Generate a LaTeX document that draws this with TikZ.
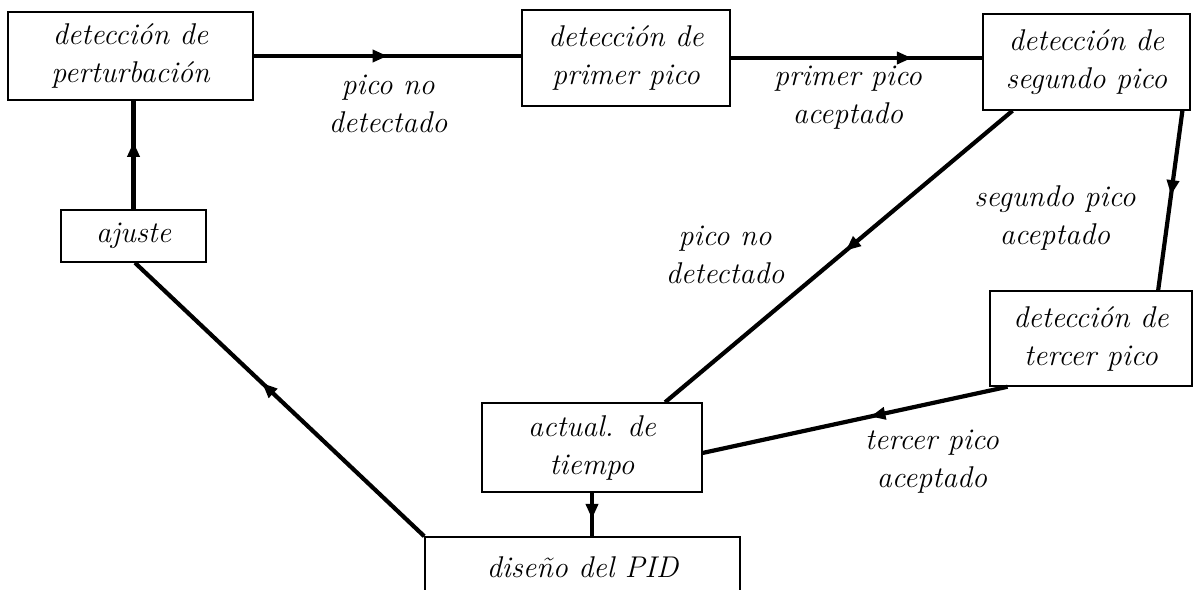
\documentclass[tikz,border=0pt]{standalone}
\usetikzlibrary{arrows.meta,decorations.markings,calc}
\begin{document}
\begin{tikzpicture}[x=1pt,y=-1pt,
  txt/.style={font=\fontsize{30}{38}\selectfont\itshape, align=center, inner sep=0pt},
  blk/.style={txt, draw, line width=1.5pt, fill=white},
  lbl/.style={txt},
  conn/.style={line width=4.2pt, postaction={decorate},
    decoration={markings, mark=at position #1 with {\arrow{Triangle[length=15pt,width=12pt]}}}},
  conn/.default=0.5]
\useasboundingbox (0,0) rectangle (1194,589);
% boxes
\node[blk, minimum width=245pt, minimum height=88pt] (b1) at (130.5,56) {detección de\\perturbación};
\node[blk, minimum width=208pt, minimum height=96pt] (b2) at (626,58) {detección de\\primer pico};
\node[blk, minimum width=207pt, minimum height=96pt] (b3) at (1086.5,62) {detección de\\segundo pico};
\node[blk, minimum width=145pt, minimum height=52pt] (aj) at (133.5,236) {ajuste};
\node[blk, minimum width=202pt, minimum height=95pt] (b4) at (1091,338.5) {detección de\\tercer pico};
\node[blk, minimum width=220pt, minimum height=89pt] (act) at (592,447.5) {actual. de\\tiempo};
\node[blk, minimum width=315pt, minimum height=60pt] (pid) at (582.5,567) {diseño del PID};
% anchor points
\coordinate (b3a) at ($(b3.south west)!0.145!(b3.south east)$);
\coordinate (b3b) at ($(b3.south west)!0.96!(b3.south east)$);
\coordinate (actn) at ($(act.north west)!0.83!(act.north east)$);
\coordinate (b4n) at ($(b4.north west)!0.83!(b4.north east)$);
\coordinate (b4s) at ($(b4.south west)!0.09!(b4.south east)$);
\coordinate (acte) at ($(act.north east)!0.56!(act.south east)$);
\coordinate (ajs) at ($(aj.south west)!0.51!(aj.south east)$);
% connectors
\draw[conn=0.5] (b1.east) -- (b1.east -| b2.west);
\draw[conn=0.72] (b2.east) -- (b2.east -| b3.west);
\draw[conn=0.48] (b3a) -- (actn);
\draw[conn=0.47] (b3b) -- (b4n);
\draw[conn=0.45] (b4s) -- (acte);
\draw[conn=0.6] (act.south) -- (act.south |- pid.north);
\draw[conn=0.56] (pid.north west) -- (ajs);
\draw[conn=0.62] (aj.north) -- (aj.north |- b1.south);
% labels
\node[lbl] (l1) at (388,104) {pico no\\detectado};
\node[lbl] (l2) at (848,98) {primer pico\\aceptado};
\node[lbl] (l3) at (725,255) {pico no\\detectado};
\node[lbl] (l4) at (1055,218) {segundo pico\\aceptado};
\node[lbl] (l5) at (932,462) {tercer pico\\aceptado};
\end{tikzpicture}
\end{document}
